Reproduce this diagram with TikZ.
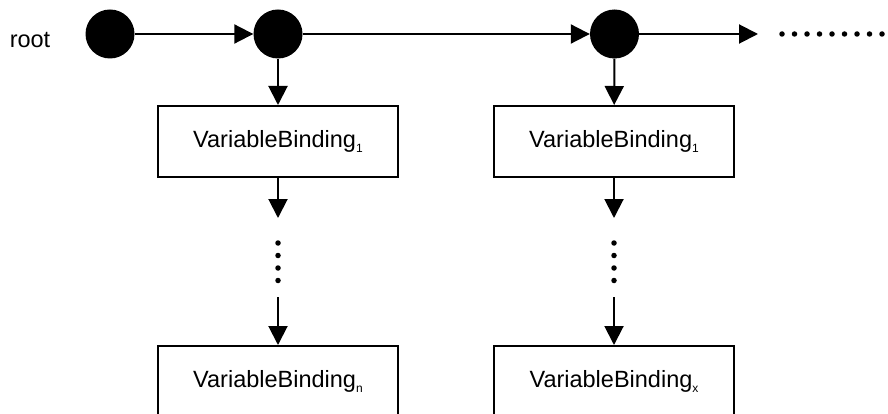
\documentclass[tikz,border=0pt]{standalone}
\usepackage{fontspec}
\setmainfont{Liberation Sans}
\usetikzlibrary{arrows.meta}
\newcommand{\mysub}[1]{\raisebox{-5pt}{\fontsize{12}{12}\selectfont #1}}
\begin{document}
\begin{tikzpicture}[x=1pt,y=-1pt,
  bigdot/.style={circle,fill=black,inner sep=0pt,minimum size=49pt},
  vbox/.style={draw,line width=2pt,minimum width=240pt,minimum height=71pt,inner sep=0pt,font=\fontsize{23.5}{28}\selectfont},
  conn/.style={line width=2pt,-{Triangle[length=19pt,width=19pt]}},
  sdot/.style={circle,fill=black,inner sep=0pt,minimum size=5.5pt},
  lbl/.style={font=\fontsize{23.5}{28}\selectfont,inner sep=0pt}]
\clip (0,0) rectangle (888,414);
\node[lbl,anchor=base] (root) at (30,48) {root};
\node[bigdot] (c1) at (110,34) {};
\node[bigdot] (c2) at (278,34) {};
\node[bigdot] (c3) at (614.5,34) {};
\coordinate (hend) at (758,34);
\foreach \i in {0,...,8} {
  \node[sdot] (h\i) at ({782+12.5*\i},34) {};
}
\draw[conn] (c1) -- (c2);
\draw[conn] (c2) -- (c3);
\draw[conn] (c3) -- (hend);

\node[vbox] (b1) at (278,141.5) {VariableBinding\mysub{1}};
\node[vbox] (b2) at (614,141.5) {VariableBinding\mysub{1}};
\node[vbox] (b3) at (278,381.5) {VariableBinding\mysub{n}};
\node[vbox] (b4) at (614,381.5) {VariableBinding\mysub{x}};

\draw[conn] (c2) -- (b1);
\draw[conn] (c3) -- (b2);

\coordinate (t1) at (278,218);
\coordinate (t2) at (614,218);
\coordinate (s1) at (278,297);
\coordinate (s2) at (614,297);
\draw[conn] (b1) -- (t1);
\draw[conn] (b2) -- (t2);
\foreach \y [count=\k] in {243,255.5,268,280.5} {
  \node[sdot] (v1\k) at (278,\y) {};
  \node[sdot] (v2\k) at (614,\y) {};
}
\draw[conn] (s1) -- (b3);
\draw[conn] (s2) -- (b4);
\end{tikzpicture}
\end{document}
